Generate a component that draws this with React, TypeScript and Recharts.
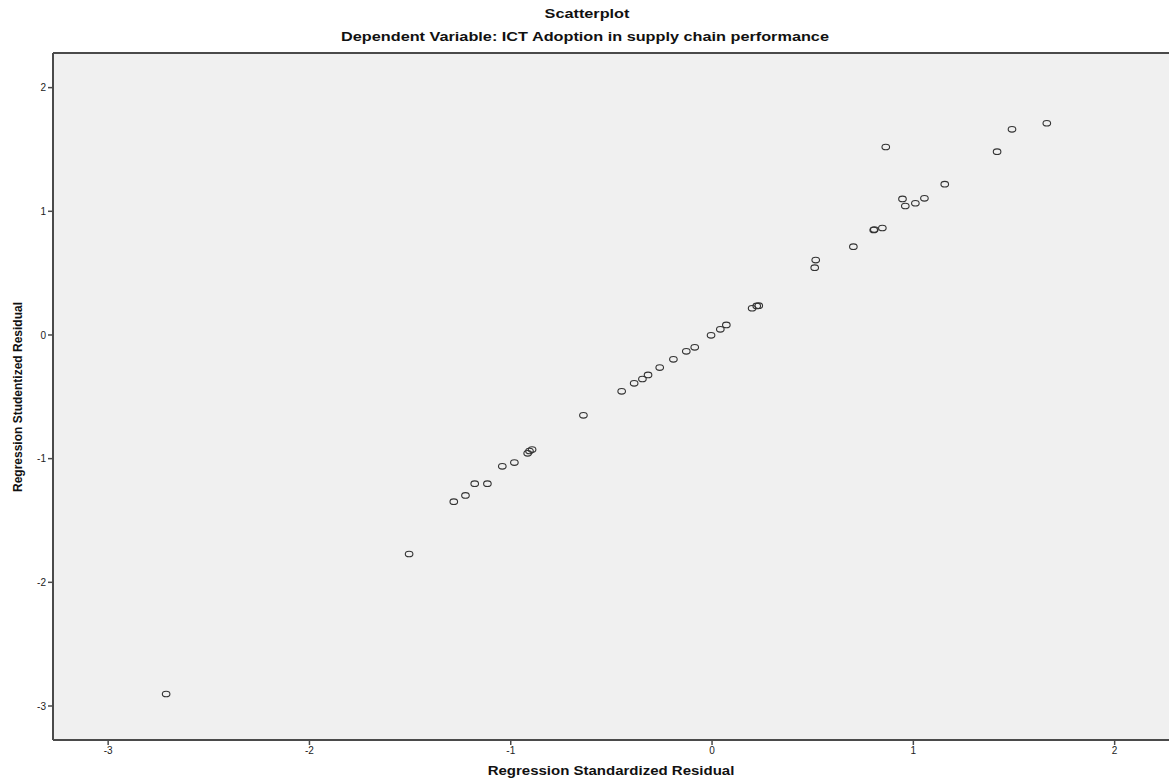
import React from "react";
import {
  ScatterChart,
  Scatter,
  XAxis,
  YAxis,
  CartesianGrid,
  ReferenceLine,
} from "recharts";

// standardized residual (x) vs studentized residual (y)
const stdResidual = [
  -2.712, -1.505, -1.283, -1.225, -1.179, -1.116, -1.042, -0.982, -0.916, -0.907,
  -0.894, -0.639, -0.449, -0.387, -0.346, -0.318, -0.26, -0.192, -0.128, -0.086,
  -0.005, 0.041, 0.071, 0.199, 0.222, 0.232, 0.51, 0.515, 0.702, 0.803, 0.806,
  0.846, 0.863, 0.946, 0.96, 1.01, 1.055, 1.156, 1.416, 1.49, 1.663,
];
const studResidual = [
  -2.903, -1.771, -1.348, -1.297, -1.202, -1.202, -1.062, -1.032, -0.957, -0.938,
  -0.927, -0.65, -0.456, -0.391, -0.356, -0.323, -0.264, -0.197, -0.132, -0.1,
  -0.003, 0.046, 0.081, 0.216, 0.235, 0.237, 0.544, 0.606, 0.714, 0.849, 0.852,
  0.865, 1.52, 1.1, 1.043, 1.065, 1.105, 1.219, 1.482, 1.663, 1.712,
];
const xTicks = [-3, -2, -1, 0, 1, 2];
const yTicks = [-3, -2, -1, 0, 1, 2];

const points = stdResidual.map((x, i) => ({ x, y: studResidual[i] }));

const FONT = "'Liberation Sans', Arial, sans-serif";
const AXIS = "#4a4a4a";

function Ring(props: any) {
  const { cx, cy } = props;
  if (cx == null || cy == null) return null;
  return (
    <ellipse cx={cx} cy={cy} rx={3.8} ry={2.8} fill="none" stroke="#333" strokeWidth={1.1} />
  );
}

// the original text is a bit wider than Liberation Sans, so stretch it sideways
function Caption({ x, y, size, children }: { x: number; y: number; size: number; children: string }) {
  return (
    <div
      style={{
        position: "absolute",
        left: x,
        top: y,
        transform: "translateX(-50%) scaleX(1.25)",
        whiteSpace: "nowrap",
        fontWeight: "bold",
        fontSize: size,
        color: "#111",
      }}
    >
      {children}
    </div>
  );
}

export default function App() {
  return (
    <div
      style={{
        position: "absolute",
        left: 0,
        top: 0,
        width: 1169,
        height: 782,
        background: "#fff",
        fontFamily: FONT,
      }}
    >
      <ScatterChart
        width={1169}
        height={782}
        margin={{ top: 53, right: 0, bottom: 0, left: 0 }}
      >
        <CartesianGrid fill="#f0f0f0" horizontal={false} vertical={false} stroke="none" />
        <XAxis
          type="number"
          dataKey="x"
          domain={[-3.274, 2.27]}
          ticks={xTicks}
          height={42}
          axisLine={{ stroke: AXIS, strokeWidth: 2 }}
          tickLine={{ stroke: AXIS, strokeWidth: 1.5 }}
          tickSize={5}
          tick={{ fontSize: 10, fill: "#222", fontFamily: FONT }}
          allowDataOverflow
        />
        <YAxis
          type="number"
          dataKey="y"
          domain={[-3.275, 2.28]}
          ticks={yTicks}
          width={53}
          axisLine={{ stroke: AXIS, strokeWidth: 2 }}
          tickLine={{ stroke: AXIS, strokeWidth: 1.5 }}
          tickSize={5}
          tick={{ fontSize: 10, fill: "#222", fontFamily: FONT }}
          allowDataOverflow
        />
        <ReferenceLine y={2.28} stroke={AXIS} strokeWidth={2} />
        <Scatter data={points} shape={<Ring />} isAnimationActive={false} />
      </ScatterChart>

      <Caption x={587} y={6} size={13}>Scatterplot</Caption>
      <Caption x={585} y={29} size={13}>
        Dependent Variable: ICT Adoption in supply chain performance
      </Caption>
      <Caption x={611} y={764} size={12}>Regression Standardized Residual</Caption>
      <div
        style={{
          position: "absolute",
          left: 18,
          top: 397,
          transform: "translate(-50%, -50%) rotate(-90deg)",
          whiteSpace: "nowrap",
          fontWeight: "bold",
          fontSize: 12,
          color: "#111",
        }}
      >
        Regression Studentized Residual
      </div>
    </div>
  );
}
